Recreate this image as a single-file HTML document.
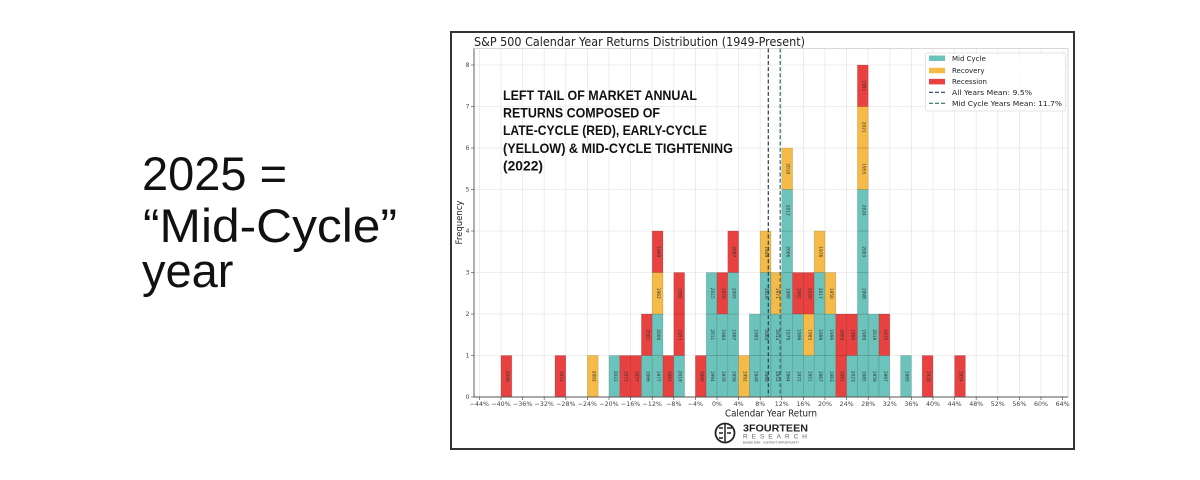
<!DOCTYPE html>
<html><head><meta charset="utf-8"><style>
html,body{margin:0;padding:0;background:#fff;width:1200px;height:480px;overflow:hidden}
svg{display:block}
.big{font-family:"Liberation Sans",Arial,sans-serif;font-size:47px;fill:#111}
.dv{font-family:"DejaVu Sans","Liberation Sans",sans-serif}
.T{fill:#6cc3bb}.Y{fill:#f5ba47}.R{fill:#e9413f}
.bars rect{stroke:rgba(0,0,0,0.18);stroke-width:0.6}
.yr{font-family:"DejaVu Sans",sans-serif;font-size:4.3px;fill:#333;text-anchor:middle;dominant-baseline:central}
.xt{font-family:"DejaVu Sans",sans-serif;font-size:6.3px;fill:#444;text-anchor:middle}
.yt{font-family:"DejaVu Sans",sans-serif;font-size:6px;fill:#444;text-anchor:end}
.ann{font-family:"Liberation Sans",Arial,sans-serif;font-weight:bold;font-size:14px;fill:#111}
.lg{font-family:"DejaVu Sans",sans-serif;font-size:7px;fill:#222}
</style></head><body>
<svg width="1200" height="480" viewBox="0 0 1200 480" xmlns="http://www.w3.org/2000/svg">
<rect width="1200" height="480" fill="#fff"/>
<!-- left text -->
<text class="big" x="142" y="190" textLength="145" lengthAdjust="spacingAndGlyphs">2025 =</text>
<text class="big" x="143" y="242" textLength="254" lengthAdjust="spacingAndGlyphs">“Mid-Cycle”</text>
<text class="big" x="142" y="287">year</text>

<!-- chart frame -->
<rect x="451" y="32" width="623" height="417" fill="#fff" stroke="#333" stroke-width="2"/>

<!-- grid -->
<g stroke="#e8e8e8" stroke-width="0.8">
<line x1="479.4" y1="48.5" x2="479.4" y2="397"/><line x1="501" y1="48.5" x2="501" y2="397"/><line x1="522.6" y1="48.5" x2="522.6" y2="397"/><line x1="544.2" y1="48.5" x2="544.2" y2="397"/><line x1="565.8" y1="48.5" x2="565.8" y2="397"/><line x1="587.4" y1="48.5" x2="587.4" y2="397"/><line x1="609" y1="48.5" x2="609" y2="397"/><line x1="630.6" y1="48.5" x2="630.6" y2="397"/><line x1="652.2" y1="48.5" x2="652.2" y2="397"/><line x1="673.8" y1="48.5" x2="673.8" y2="397"/><line x1="695.4" y1="48.5" x2="695.4" y2="397"/><line x1="717" y1="48.5" x2="717" y2="397"/><line x1="738.6" y1="48.5" x2="738.6" y2="397"/><line x1="760.2" y1="48.5" x2="760.2" y2="397"/><line x1="781.8" y1="48.5" x2="781.8" y2="397"/><line x1="803.4" y1="48.5" x2="803.4" y2="397"/><line x1="825" y1="48.5" x2="825" y2="397"/><line x1="846.6" y1="48.5" x2="846.6" y2="397"/><line x1="868.2" y1="48.5" x2="868.2" y2="397"/><line x1="889.8" y1="48.5" x2="889.8" y2="397"/><line x1="911.4" y1="48.5" x2="911.4" y2="397"/><line x1="933" y1="48.5" x2="933" y2="397"/><line x1="954.6" y1="48.5" x2="954.6" y2="397"/><line x1="976.2" y1="48.5" x2="976.2" y2="397"/><line x1="997.8" y1="48.5" x2="997.8" y2="397"/><line x1="1019.4" y1="48.5" x2="1019.4" y2="397"/><line x1="1041" y1="48.5" x2="1041" y2="397"/><line x1="1062.6" y1="48.5" x2="1062.6" y2="397"/>
<line x1="474" y1="355.5" x2="1068" y2="355.5"/><line x1="474" y1="314" x2="1068" y2="314"/><line x1="474" y1="272.5" x2="1068" y2="272.5"/><line x1="474" y1="231" x2="1068" y2="231"/><line x1="474" y1="189.5" x2="1068" y2="189.5"/><line x1="474" y1="148" x2="1068" y2="148"/><line x1="474" y1="106.5" x2="1068" y2="106.5"/><line x1="474" y1="65" x2="1068" y2="65"/>
</g>
<!-- axes spines -->
<rect x="474" y="48.5" width="594" height="348.5" fill="none" stroke="#cfcfcf" stroke-width="0.8"/>

<!-- bars -->
<g class="bars">
<rect class="R" x="501" y="355.5" width="10.8" height="41.5"/>
<rect class="R" x="555" y="355.5" width="10.8" height="41.5"/>
<rect class="Y" x="587.4" y="355.5" width="10.8" height="41.5"/>
<rect class="T" x="609" y="355.5" width="10.8" height="41.5"/>
<rect class="R" x="619.8" y="355.5" width="10.8" height="41.5"/>
<rect class="R" x="630.6" y="355.5" width="10.8" height="41.5"/>
<rect class="T" x="641.4" y="355.5" width="10.8" height="41.5"/><rect class="R" x="641.4" y="314" width="10.8" height="41.5"/>
<rect class="T" x="652.2" y="355.5" width="10.8" height="41.5"/><rect class="T" x="652.2" y="314" width="10.8" height="41.5"/><rect class="Y" x="652.2" y="272.5" width="10.8" height="41.5"/><rect class="R" x="652.2" y="231" width="10.8" height="41.5"/>
<rect class="R" x="663" y="355.5" width="10.8" height="41.5"/>
<rect class="T" x="673.8" y="355.5" width="10.8" height="41.5"/><rect class="R" x="673.8" y="314" width="10.8" height="41.5"/><rect class="R" x="673.8" y="272.5" width="10.8" height="41.5"/>
<rect class="R" x="695.4" y="355.5" width="10.8" height="41.5"/>
<rect class="T" x="706.2" y="355.5" width="10.8" height="41.5"/><rect class="T" x="706.2" y="314" width="10.8" height="41.5"/><rect class="T" x="706.2" y="272.5" width="10.8" height="41.5"/>
<rect class="T" x="717" y="355.5" width="10.8" height="41.5"/><rect class="T" x="717" y="314" width="10.8" height="41.5"/><rect class="R" x="717" y="272.5" width="10.8" height="41.5"/>
<rect class="T" x="727.8" y="355.5" width="10.8" height="41.5"/><rect class="T" x="727.8" y="314" width="10.8" height="41.5"/><rect class="T" x="727.8" y="272.5" width="10.8" height="41.5"/><rect class="R" x="727.8" y="231" width="10.8" height="41.5"/>
<rect class="Y" x="738.6" y="355.5" width="10.8" height="41.5"/>
<rect class="T" x="749.4" y="355.5" width="10.8" height="41.5"/><rect class="T" x="749.4" y="314" width="10.8" height="41.5"/>
<rect class="T" x="760.2" y="355.5" width="10.8" height="41.5"/><rect class="T" x="760.2" y="314" width="10.8" height="41.5"/><rect class="T" x="760.2" y="272.5" width="10.8" height="41.5"/><rect class="Y" x="760.2" y="231" width="10.8" height="41.5"/>
<rect class="T" x="771" y="355.5" width="10.8" height="41.5"/><rect class="T" x="771" y="314" width="10.8" height="41.5"/><rect class="Y" x="771" y="272.5" width="10.8" height="41.5"/>
<rect class="T" x="781.8" y="355.5" width="10.8" height="41.5"/><rect class="T" x="781.8" y="314" width="10.8" height="41.5"/><rect class="T" x="781.8" y="272.5" width="10.8" height="41.5"/><rect class="T" x="781.8" y="231" width="10.8" height="41.5"/><rect class="T" x="781.8" y="189.5" width="10.8" height="41.5"/><rect class="Y" x="781.8" y="148" width="10.8" height="41.5"/>
<rect class="T" x="792.6" y="355.5" width="10.8" height="41.5"/><rect class="T" x="792.6" y="314" width="10.8" height="41.5"/><rect class="R" x="792.6" y="272.5" width="10.8" height="41.5"/>
<rect class="T" x="803.4" y="355.5" width="10.8" height="41.5"/><rect class="Y" x="803.4" y="314" width="10.8" height="41.5"/><rect class="R" x="803.4" y="272.5" width="10.8" height="41.5"/>
<rect class="T" x="814.2" y="355.5" width="10.8" height="41.5"/><rect class="T" x="814.2" y="314" width="10.8" height="41.5"/><rect class="T" x="814.2" y="272.5" width="10.8" height="41.5"/><rect class="Y" x="814.2" y="231" width="10.8" height="41.5"/>
<rect class="T" x="825" y="355.5" width="10.8" height="41.5"/><rect class="T" x="825" y="314" width="10.8" height="41.5"/><rect class="Y" x="825" y="272.5" width="10.8" height="41.5"/>
<rect class="R" x="835.8" y="355.5" width="10.8" height="41.5"/><rect class="R" x="835.8" y="314" width="10.8" height="41.5"/>
<rect class="T" x="846.6" y="355.5" width="10.8" height="41.5"/><rect class="R" x="846.6" y="314" width="10.8" height="41.5"/>
<rect class="T" x="857.4" y="355.5" width="10.8" height="41.5"/><rect class="T" x="857.4" y="314" width="10.8" height="41.5"/><rect class="T" x="857.4" y="272.5" width="10.8" height="41.5"/><rect class="T" x="857.4" y="231" width="10.8" height="41.5"/><rect class="T" x="857.4" y="189.5" width="10.8" height="41.5"/><rect class="Y" x="857.4" y="148" width="10.8" height="41.5"/><rect class="Y" x="857.4" y="106.5" width="10.8" height="41.5"/><rect class="R" x="857.4" y="65" width="10.8" height="41.5"/>
<rect class="T" x="868.2" y="355.5" width="10.8" height="41.5"/><rect class="T" x="868.2" y="314" width="10.8" height="41.5"/>
<rect class="T" x="879" y="355.5" width="10.8" height="41.5"/><rect class="R" x="879" y="314" width="10.8" height="41.5"/>
<rect class="T" x="900.6" y="355.5" width="10.8" height="41.5"/>
<rect class="R" x="922.2" y="355.5" width="10.8" height="41.5"/>
<rect class="R" x="954.6" y="355.5" width="10.8" height="41.5"/>
</g>

<!-- year labels -->
<g>
<text class="yr" transform="translate(506.4,376.25) rotate(90)">2008</text>
<text class="yr" transform="translate(560.4,376.25) rotate(90)">1974</text>
<text class="yr" transform="translate(592.8,376.25) rotate(90)">2002</text>
<text class="yr" transform="translate(614.4,376.25) rotate(90)">2022</text>
<text class="yr" transform="translate(625.2,376.25) rotate(90)">1973</text>
<text class="yr" transform="translate(636,376.25) rotate(90)">1957</text>
<text class="yr" transform="translate(646.8,376.25) rotate(90)">1966</text><text class="yr" transform="translate(646.8,334.75) rotate(90)">2001</text>
<text class="yr" transform="translate(657.6,376.25) rotate(90)">1977</text><text class="yr" transform="translate(657.6,334.75) rotate(90)">2000</text><text class="yr" transform="translate(657.6,293.25) rotate(90)">1962</text><text class="yr" transform="translate(657.6,251.75) rotate(90)">1969</text>
<text class="yr" transform="translate(668.4,376.25) rotate(90)">1981</text>
<text class="yr" transform="translate(679.2,376.25) rotate(90)">2018</text><text class="yr" transform="translate(679.2,334.75) rotate(90)">1953</text><text class="yr" transform="translate(679.2,293.25) rotate(90)">1990</text>
<text class="yr" transform="translate(700.8,376.25) rotate(90)">1960</text>
<text class="yr" transform="translate(711.6,376.25) rotate(90)">1994</text><text class="yr" transform="translate(711.6,334.75) rotate(90)">2011</text><text class="yr" transform="translate(711.6,293.25) rotate(90)">2015</text>
<text class="yr" transform="translate(722.4,376.25) rotate(90)">1978</text><text class="yr" transform="translate(722.4,334.75) rotate(90)">1984</text><text class="yr" transform="translate(722.4,293.25) rotate(90)">1970</text>
<text class="yr" transform="translate(733.2,376.25) rotate(90)">1956</text><text class="yr" transform="translate(733.2,334.75) rotate(90)">1987</text><text class="yr" transform="translate(733.2,293.25) rotate(90)">2005</text><text class="yr" transform="translate(733.2,251.75) rotate(90)">2007</text>
<text class="yr" transform="translate(744,376.25) rotate(90)">1992</text>
<text class="yr" transform="translate(754.8,376.25) rotate(90)">1948</text><text class="yr" transform="translate(754.8,334.75) rotate(90)">1993</text>
<text class="yr" transform="translate(765.6,376.25) rotate(90)">1968</text><text class="yr" transform="translate(765.6,334.75) rotate(90)">2004</text><text class="yr" transform="translate(765.6,293.25) rotate(90)">2016</text><text class="yr" transform="translate(765.6,251.75) rotate(90)">1949</text>
<text class="yr" transform="translate(776.4,376.25) rotate(90)">1952</text><text class="yr" transform="translate(776.4,334.75) rotate(90)">2014</text><text class="yr" transform="translate(776.4,293.25) rotate(90)">1971</text>
<text class="yr" transform="translate(787.2,376.25) rotate(90)">1964</text><text class="yr" transform="translate(787.2,334.75) rotate(90)">1979</text><text class="yr" transform="translate(787.2,293.25) rotate(90)">1988</text><text class="yr" transform="translate(787.2,251.75) rotate(90)">2006</text><text class="yr" transform="translate(787.2,210.25) rotate(90)">2012</text><text class="yr" transform="translate(787.2,168.75) rotate(90)">2010</text>
<text class="yr" transform="translate(798,376.25) rotate(90)">1972</text><text class="yr" transform="translate(798,334.75) rotate(90)">1986</text><text class="yr" transform="translate(798,293.25) rotate(90)">1982</text>
<text class="yr" transform="translate(808.8,376.25) rotate(90)">1951</text><text class="yr" transform="translate(808.8,334.75) rotate(90)">1983</text><text class="yr" transform="translate(808.8,293.25) rotate(90)">2020</text>
<text class="yr" transform="translate(819.6,376.25) rotate(90)">1967</text><text class="yr" transform="translate(819.6,334.75) rotate(90)">1999</text><text class="yr" transform="translate(819.6,293.25) rotate(90)">2017</text><text class="yr" transform="translate(819.6,251.75) rotate(90)">1976</text>
<text class="yr" transform="translate(830.4,376.25) rotate(90)">1963</text><text class="yr" transform="translate(830.4,334.75) rotate(90)">1996</text><text class="yr" transform="translate(830.4,293.25) rotate(90)">1950</text>
<text class="yr" transform="translate(841.2,376.25) rotate(90)">1961</text><text class="yr" transform="translate(841.2,334.75) rotate(90)">2009</text>
<text class="yr" transform="translate(852,376.25) rotate(90)">2023</text><text class="yr" transform="translate(852,334.75) rotate(90)">1980</text>
<text class="yr" transform="translate(862.8,376.25) rotate(90)">1985</text><text class="yr" transform="translate(862.8,334.75) rotate(90)">1989</text><text class="yr" transform="translate(862.8,293.25) rotate(90)">1998</text><text class="yr" transform="translate(862.8,251.75) rotate(90)">2003</text><text class="yr" transform="translate(862.8,210.25) rotate(90)">2024</text><text class="yr" transform="translate(862.8,168.75) rotate(90)">1955</text><text class="yr" transform="translate(862.8,127.25) rotate(90)">2021</text><text class="yr" transform="translate(862.8,85.75) rotate(90)">1991</text>
<text class="yr" transform="translate(873.6,376.25) rotate(90)">1959</text><text class="yr" transform="translate(873.6,334.75) rotate(90)">2019</text>
<text class="yr" transform="translate(884.4,376.25) rotate(90)">1997</text><text class="yr" transform="translate(884.4,334.75) rotate(90)">1975</text>
<text class="yr" transform="translate(906,376.25) rotate(90)">1995</text>
<text class="yr" transform="translate(927.6,376.25) rotate(90)">1958</text>
<text class="yr" transform="translate(960,376.25) rotate(90)">1954</text>
</g>

<!-- mean lines -->
<line x1="768.3" y1="48.5" x2="768.3" y2="397" stroke="#2c3e50" stroke-width="1.2" stroke-dasharray="4,2.2"/>
<line x1="780.2" y1="48.5" x2="780.2" y2="397" stroke="#2f6b66" stroke-width="1.2" stroke-dasharray="4,2.2"/>

<!-- left and bottom spines -->
<line x1="474" y1="48.5" x2="474" y2="397" stroke="#555" stroke-width="0.9"/>
<line x1="474" y1="397" x2="1068" y2="397" stroke="#555" stroke-width="0.9"/>

<!-- y ticks -->
<g stroke="#555" stroke-width="0.7">
<line x1="471" y1="397" x2="474" y2="397"/><line x1="471" y1="355.5" x2="474" y2="355.5"/><line x1="471" y1="314" x2="474" y2="314"/><line x1="471" y1="272.5" x2="474" y2="272.5"/><line x1="471" y1="231" x2="474" y2="231"/><line x1="471" y1="189.5" x2="474" y2="189.5"/><line x1="471" y1="148" x2="474" y2="148"/><line x1="471" y1="106.5" x2="474" y2="106.5"/><line x1="471" y1="65" x2="474" y2="65"/>
</g>
<g>
<text class="yt" x="469.5" y="399.2">0</text><text class="yt" x="469.5" y="357.7">1</text><text class="yt" x="469.5" y="316.2">2</text><text class="yt" x="469.5" y="274.7">3</text><text class="yt" x="469.5" y="233.2">4</text><text class="yt" x="469.5" y="191.7">5</text><text class="yt" x="469.5" y="150.2">6</text><text class="yt" x="469.5" y="108.7">7</text><text class="yt" x="469.5" y="67.2">8</text>
</g>
<text class="dv" transform="translate(462,222.5) rotate(-90)" text-anchor="middle" font-size="8.5" fill="#222">Frequency</text>

<!-- x ticks -->
<g stroke="#555" stroke-width="0.7">
<line x1="479.4" y1="397" x2="479.4" y2="400"/><line x1="501" y1="397" x2="501" y2="400"/><line x1="522.6" y1="397" x2="522.6" y2="400"/><line x1="544.2" y1="397" x2="544.2" y2="400"/><line x1="565.8" y1="397" x2="565.8" y2="400"/><line x1="587.4" y1="397" x2="587.4" y2="400"/><line x1="609" y1="397" x2="609" y2="400"/><line x1="630.6" y1="397" x2="630.6" y2="400"/><line x1="652.2" y1="397" x2="652.2" y2="400"/><line x1="673.8" y1="397" x2="673.8" y2="400"/><line x1="695.4" y1="397" x2="695.4" y2="400"/><line x1="717" y1="397" x2="717" y2="400"/><line x1="738.6" y1="397" x2="738.6" y2="400"/><line x1="760.2" y1="397" x2="760.2" y2="400"/><line x1="781.8" y1="397" x2="781.8" y2="400"/><line x1="803.4" y1="397" x2="803.4" y2="400"/><line x1="825" y1="397" x2="825" y2="400"/><line x1="846.6" y1="397" x2="846.6" y2="400"/><line x1="868.2" y1="397" x2="868.2" y2="400"/><line x1="889.8" y1="397" x2="889.8" y2="400"/><line x1="911.4" y1="397" x2="911.4" y2="400"/><line x1="933" y1="397" x2="933" y2="400"/><line x1="954.6" y1="397" x2="954.6" y2="400"/><line x1="976.2" y1="397" x2="976.2" y2="400"/><line x1="997.8" y1="397" x2="997.8" y2="400"/><line x1="1019.4" y1="397" x2="1019.4" y2="400"/><line x1="1041" y1="397" x2="1041" y2="400"/><line x1="1062.6" y1="397" x2="1062.6" y2="400"/>
</g>
<g>
<text class="xt" x="479.4" y="406">−44%</text><text class="xt" x="501" y="406">−40%</text><text class="xt" x="522.6" y="406">−36%</text><text class="xt" x="544.2" y="406">−32%</text><text class="xt" x="565.8" y="406">−28%</text><text class="xt" x="587.4" y="406">−24%</text><text class="xt" x="609" y="406">−20%</text><text class="xt" x="630.6" y="406">−16%</text><text class="xt" x="652.2" y="406">−12%</text><text class="xt" x="673.8" y="406">−8%</text><text class="xt" x="695.4" y="406">−4%</text><text class="xt" x="717" y="406">0%</text><text class="xt" x="738.6" y="406">4%</text><text class="xt" x="760.2" y="406">8%</text><text class="xt" x="781.8" y="406">12%</text><text class="xt" x="803.4" y="406">16%</text><text class="xt" x="825" y="406">20%</text><text class="xt" x="846.6" y="406">24%</text><text class="xt" x="868.2" y="406">28%</text><text class="xt" x="889.8" y="406">32%</text><text class="xt" x="911.4" y="406">36%</text><text class="xt" x="933" y="406">40%</text><text class="xt" x="954.6" y="406">44%</text><text class="xt" x="976.2" y="406">48%</text><text class="xt" x="997.8" y="406">52%</text><text class="xt" x="1019.4" y="406">56%</text><text class="xt" x="1041" y="406">60%</text><text class="xt" x="1062.6" y="406">64%</text>
</g>
<text class="dv" x="771" y="416.5" text-anchor="middle" font-size="9.5" fill="#222" textLength="92" lengthAdjust="spacingAndGlyphs">Calendar Year Return</text>

<!-- title -->
<text class="dv" x="474" y="46" font-size="12" fill="#222" textLength="331" lengthAdjust="spacingAndGlyphs">S&amp;P 500 Calendar Year Returns Distribution (1949-Present)</text>

<!-- annotation -->
<text class="ann" x="503" y="100" textLength="194" lengthAdjust="spacingAndGlyphs">LEFT TAIL OF MARKET ANNUAL</text>
<text class="ann" x="503" y="117.5" textLength="157" lengthAdjust="spacingAndGlyphs">RETURNS COMPOSED OF</text>
<text class="ann" x="503" y="135" textLength="204" lengthAdjust="spacingAndGlyphs">LATE-CYCLE (RED), EARLY-CYCLE</text>
<text class="ann" x="503" y="153" textLength="230" lengthAdjust="spacingAndGlyphs">(YELLOW) &amp; MID-CYCLE TIGHTENING</text>
<text class="ann" x="503" y="170.5" textLength="40" lengthAdjust="spacingAndGlyphs">(2022)</text>

<!-- legend -->
<rect x="925.5" y="53" width="140" height="58" rx="2" fill="#fff" fill-opacity="0.85" stroke="#dcdcdc" stroke-width="0.8"/>
<rect class="T" x="929" y="55.5" width="16" height="5.5"/>
<rect class="Y" x="929" y="67.8" width="16" height="5.5"/>
<rect class="R" x="929" y="78.9" width="16" height="5.5"/>
<line x1="929" y1="92.3" x2="945" y2="92.3" stroke="#2c3e50" stroke-width="1.2" stroke-dasharray="4,2"/>
<line x1="929" y1="103.3" x2="945" y2="103.3" stroke="#2f6b66" stroke-width="1.2" stroke-dasharray="4,2"/>
<text class="lg" x="952" y="60.8">Mid Cycle</text>
<text class="lg" x="952" y="73.2">Recovery</text>
<text class="lg" x="952" y="84.2">Recession</text>
<text class="lg" x="952" y="94.8" textLength="80" lengthAdjust="spacingAndGlyphs">All Years Mean: 9.5%</text>
<text class="lg" x="952" y="105.8" textLength="110" lengthAdjust="spacingAndGlyphs">Mid Cycle Years Mean: 11.7%</text>

<!-- logo -->
<circle cx="725" cy="433" r="9.5" fill="none" stroke="#222" stroke-width="1.8"/>
<line x1="725" y1="424" x2="725" y2="442" stroke="#222" stroke-width="1.5"/>
<path d="M719 428 H723 M719 433 H723 M719 438 H723 M727 428 H732 M727 433 H731" stroke="#222" stroke-width="1.4" fill="none"/>
<text x="743" y="431.5" font-family="Liberation Sans, Arial, sans-serif" font-weight="bold" font-size="10" fill="#222" textLength="65" lengthAdjust="spacingAndGlyphs">3FOURTEEN</text>
<text x="743" y="438.5" font-family="Liberation Sans, Arial, sans-serif" font-size="6.5" fill="#666" textLength="64" lengthAdjust="spacing">RESEARCH</text>
<text x="743" y="443.5" font-family="Liberation Sans, Arial, sans-serif" font-size="2.6" fill="#444" textLength="56" lengthAdjust="spacingAndGlyphs">BASED RISK · CONTEXT OPPORTUNITY</text>
</svg>
</body></html>
